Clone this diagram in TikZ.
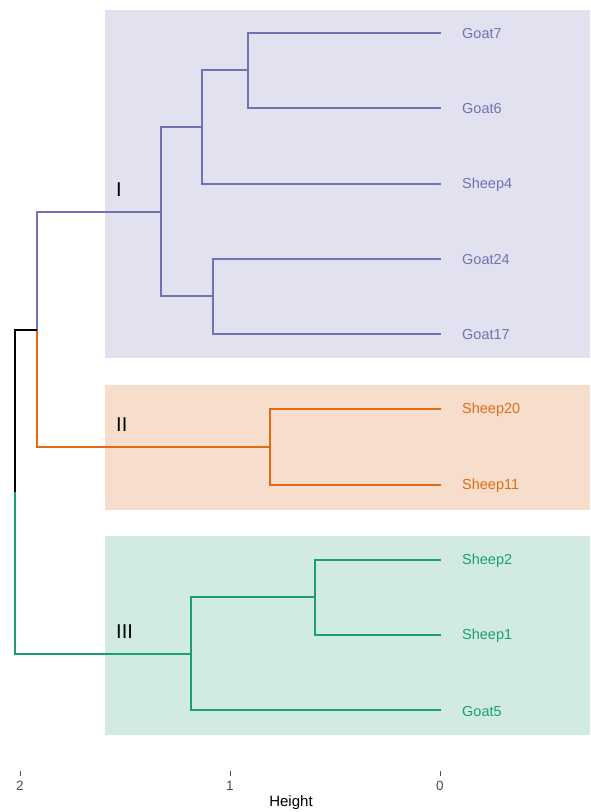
\documentclass[tikz,border=0pt]{standalone}
\usepackage{fontspec}
\setmainfont{Liberation Sans}
\definecolor{cI}{HTML}{7570B3}
\definecolor{cII}{HTML}{E36A12}
\definecolor{cIII}{HTML}{1B9E77}
\definecolor{fI}{HTML}{E2E1F0}
\definecolor{fII}{HTML}{F7DECC}
\definecolor{fIII}{HTML}{D1EBE3}
\definecolor{axisgray}{HTML}{4D4D4D}
\tikzset{
  branch/.style={line width=1.6pt},
  leaf/.style={anchor=west, font=\fontsize{14.5}{14.5}\selectfont, inner sep=0pt},
  clusterlabel/.style={anchor=west, font=\fontsize{20}{20}\selectfont, inner sep=0pt},
  ticklabel/.style={font=\fontsize{13.5}{13.5}\selectfont, text=axisgray, inner sep=0pt},
}
\begin{document}
\begin{tikzpicture}[x=1pt,y=-1pt]
\useasboundingbox (0,0) rectangle (590,812);
% cluster backgrounds
\fill[fI] (105,10) rectangle (590,358);
\fill[fII] (105,385) rectangle (590,510);
\fill[fIII] (105,536) rectangle (590,735);

% leaf tips and labels
\foreach \n/\lab/\y/\c in {l1/Goat7/33/cI, l2/Goat6/108/cI, l3/Sheep4/184/cI, l4/Goat24/259/cI, l5/Goat17/334/cI,
  l6/Sheep20/409/cII, l7/Sheep11/485/cII, l8/Sheep2/560/cIII, l9/Sheep1/635/cIII, l10/Goat5/710/cIII}{
  \coordinate (\n) at (441,\y);
  \node[leaf, text=\c] (t\n) at (462,\y+1) {\lab};
}

% merge points
\coordinate (m67) at (248,70);
\coordinate (m674) at (202,127);
\coordinate (m2417) at (213,296);
\coordinate (mI) at (161,212);
\coordinate (mII) at (270,447);
\coordinate (m21) at (315,597);
\coordinate (mIII) at (191,654);
\coordinate (mIandII) at (37,330);
\coordinate (root) at (15,492);

% cluster I
\draw[branch, cI] (l1) -| (m67) |- (l2);
\draw[branch, cI] (m67) -| (m674) |- (l3);
\draw[branch, cI] (l4) -| (m2417) |- (l5);
\draw[branch, cI] (m674) -| (mI) |- (m2417);
% cluster II
\draw[branch, cII] (l6) -| (mII) |- (l7);
% cluster III
\draw[branch, cIII] (l8) -| (m21) |- (l9);
\draw[branch, cIII] (m21) -| (mIII) |- (l10);
% upper joins
\draw[branch, cI] (mI) -| (mIandII);
\draw[branch, cII] (mII) -| (mIandII);
\draw[branch, black] (mIandII) -| (root);
\draw[branch, cIII] (mIII) -| (root);

% cluster names
\node[clusterlabel] (nI) at (116,190) {I};
\node[clusterlabel] (nII) at (116,425) {II};
\node[clusterlabel] (nIII) at (116,632) {III};

% height axis
\foreach \h/\x in {2/20,1/230,0/440}{
  \draw[axisgray, line width=1pt] (\x,771) -- (\x,776);
  \node[ticklabel] (h\h) at (\x,786) {\h};
}
\node[font=\fontsize{15}{15}\selectfont, inner sep=0pt] (axtitle) at (291,803) {Height};
\end{tikzpicture}
\end{document}
